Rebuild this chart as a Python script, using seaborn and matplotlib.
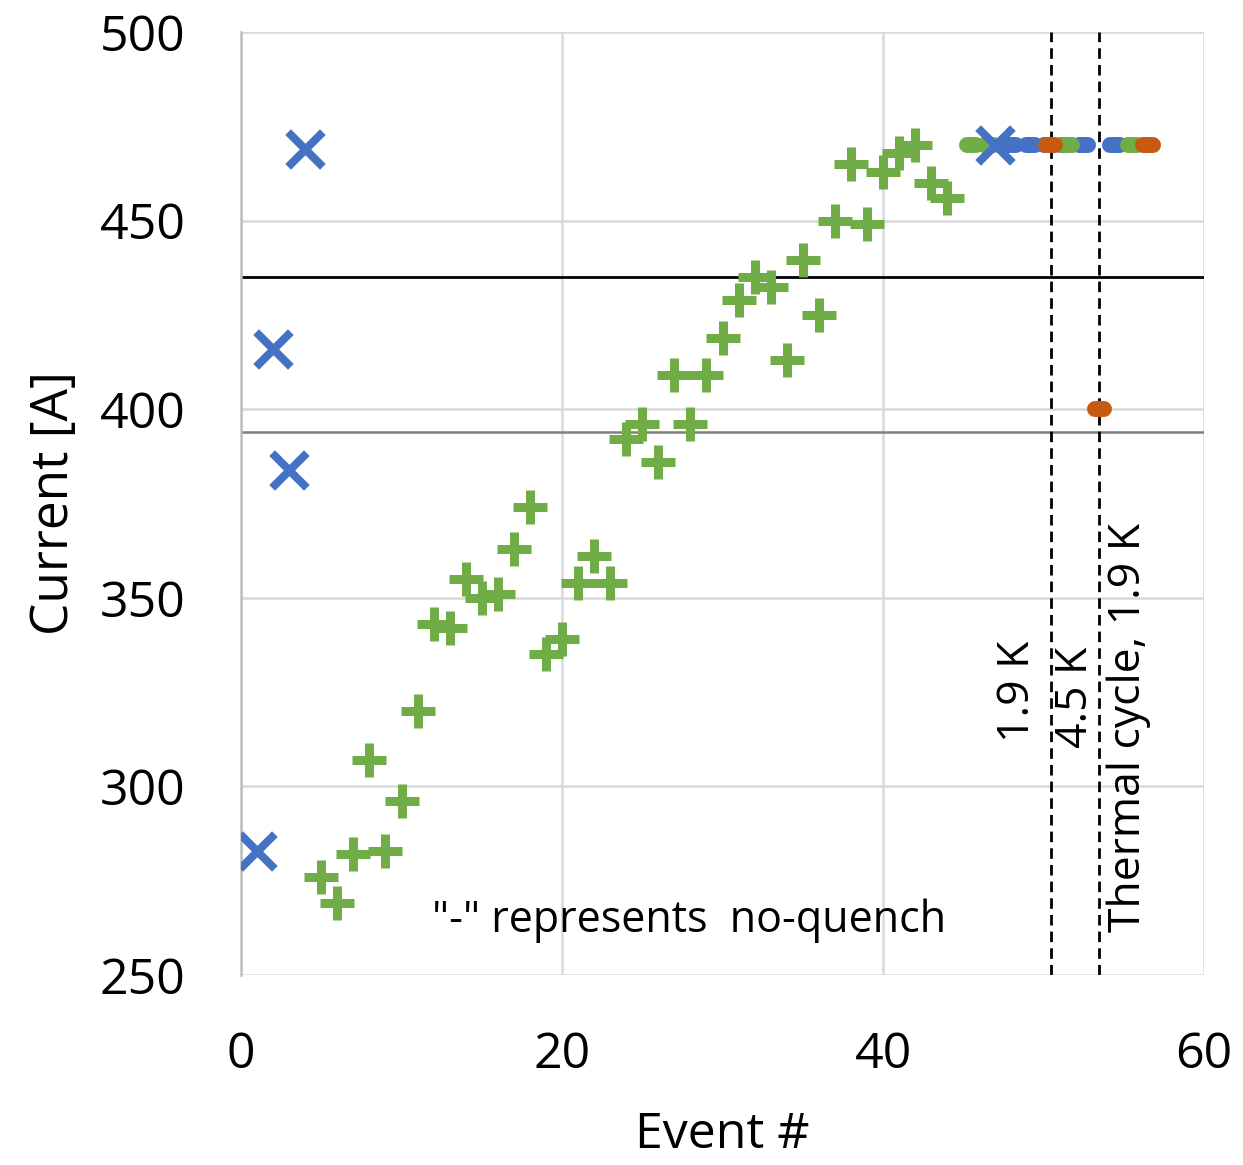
import matplotlib
matplotlib.use("Agg")
import matplotlib.pyplot as plt
import pandas as pd
import seaborn as sns

# quench events (blue "x")
blue_event = [1, 2, 3, 4, 47]
blue_current = [283, 416, 384, 469, 470]

# quench events (green "+")
green_event = [5, 6, 7, 8, 9, 10, 11, 12, 13, 14, 15, 16, 17, 18, 19, 20,
               21, 22, 23, 24, 25, 26, 27, 28, 29, 30, 31, 32, 33, 34, 35, 36,
               37, 38, 39, 40, 41, 42, 43, 44]
green_current = [276, 269, 282, 307, 283, 296, 320, 343, 342, 355, 350, 351,
                 363, 374, 335, 339, 354, 361, 354, 392, 396, 386, 409, 396,
                 409, 419, 429, 435, 432.5, 413, 439.5, 425, 450, 465, 449,
                 463, 468, 470, 460, 456]

# no-quench events ("-"), listed in drawing order
nq_event = [45.5, 46.6, 48.0, 49.2, 50.3, 51.4, 52.5, 51.5, 50.45,
            54.45, 55.55, 56.5, 53.5]
nq_current = [470, 470, 470, 470, 470, 470, 470, 470, 470,
              470, 470, 470, 400]
nq_series = ["green", "green", "blue", "blue", "blue", "blue", "blue",
             "green", "orange", "blue", "green", "orange", "orange"]

limit_lines = [435, 394]
condition_changes = [50.45, 53.47]

colors = {"blue": "#4472C4", "green": "#70AD47", "orange": "#C55A11"}

blue_df = pd.DataFrame({"event": blue_event, "current": blue_current})
green_df = pd.DataFrame({"event": green_event, "current": green_current})
nq_df = pd.DataFrame({"event": nq_event, "current": nq_current, "series": nq_series})

sns.set_theme(style="white")
plt.rcParams["font.family"] = ["Open Sans", "DejaVu Sans"]
plt.rcParams["text.color"] = "black"
plt.rcParams["axes.labelcolor"] = "black"

fig = plt.figure(figsize=(12.43, 11.65), dpi=100)
ax = fig.add_axes([241 / 1243, 1 - 975 / 1165, 963 / 1243, 943 / 1165])

ax.set_axisbelow(True)
ax.grid(True, color="#d9d9d9", linewidth=1.8)

ax.axhline(limit_lines[0], color="black", linewidth=2.0, zorder=2)
ax.axhline(limit_lines[1], color="#7f7f7f", linewidth=1.8, zorder=2)
for xc in condition_changes:
    ax.axvline(xc, color="black", linewidth=2.0, linestyle=(0, (3.8, 2.2)), zorder=2)

# "-" markers with rounded ends, like the spreadsheet dash marker
sns.scatterplot(data=nq_df, x="event", y="current", hue="series",
                palette=colors, marker="_", s=6.8 ** 2, linewidth=11.5,
                legend=False, ax=ax, zorder=3)
ax.collections[-1].set_capstyle("round")
sns.scatterplot(data=green_df, x="event", y="current", color=colors["green"],
                marker="+", s=25 ** 2, linewidth=6.5, ax=ax, zorder=4)
sns.scatterplot(data=blue_df, x="event", y="current", color=colors["blue"],
                marker="x", s=25 ** 2, linewidth=5.8, ax=ax, zorder=5)

ax.set_xlim(0, 60)
ax.set_ylim(250, 500)
ax.set_xticks([0, 20, 40, 60])
ax.set_yticks([250, 300, 350, 400, 450, 500])
ax.tick_params(axis="both", length=0, labelsize=36, pad=40,
               colors="black", labelcolor="black")

for side in ["top", "right", "bottom"]:
    ax.spines[side].set_visible(False)
ax.spines["left"].set_color("#bfbfbf")
ax.spines["left"].set_linewidth(1.8)

ax.set_xlabel("Event #", fontsize=36, labelpad=22)
ax.set_ylabel("Current [A]", fontsize=37, labelpad=14)

ax.text(11.9, 264.5, '"-" represents  no-quench', fontsize=31,
        ha="left", va="center")
ax.text(48.4, 311.8, "1.9 K", fontsize=32, rotation=90, ha="center", va="bottom")
ax.text(52.0, 310.2, "4.5 K", fontsize=32, rotation=90, ha="center", va="bottom")
ax.text(55.3, 261.5, "Thermal cycle, 1.9 K", fontsize=32, rotation=90,
        ha="center", va="bottom")

fig.savefig("out.png", dpi=100)
